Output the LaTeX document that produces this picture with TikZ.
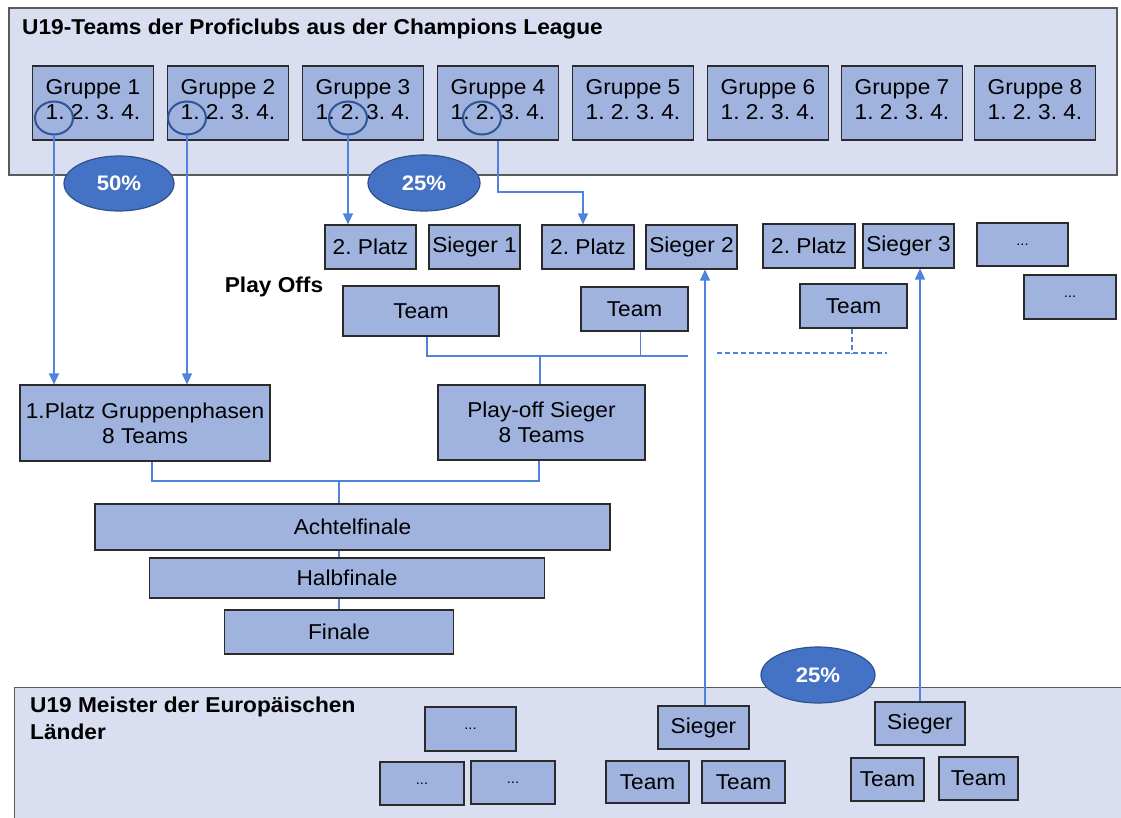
\documentclass[tikz,border=0pt]{standalone}
\usepackage{fontspec}
\setmainfont[FakeStretch=1.055]{Liberation Sans}
\usetikzlibrary{arrows.meta,shapes.geometric}

\definecolor{panelfill}{HTML}{D9DFF1}
\definecolor{panelline}{HTML}{5A5A5A}
\definecolor{boxfill}{HTML}{9FB3DE}
\definecolor{boxline}{HTML}{2B2B2B}
\definecolor{pctfill}{HTML}{4472C4}
\definecolor{pctline}{HTML}{2F528F}
\definecolor{ringcol}{HTML}{2F5597}
\definecolor{linkcol}{HTML}{5083DC}

\tikzset{
  panel/.style={draw=panelline, fill=panelfill, line width=1.2pt, inner sep=0pt},
  box/.style={draw=boxline, fill=boxfill, line width=1.1pt, inner sep=0pt,
    align=center, font=\fontsize{21.5}{25}\selectfont},
  dots/.style={box, font=\fontsize{14}{16}\selectfont},
  heading/.style={inner sep=0pt, align=left, font=\fontsize{21.5}{26.5}\selectfont\bfseries},
  pct/.style={ellipse, draw=pctline, fill=pctfill, line width=1.2pt, inner sep=0pt,
    text=white, font=\fontsize{21}{24}\selectfont\bfseries},
  ring/.style={ellipse, draw=ringcol, line width=2pt, inner sep=0pt,
    minimum width=38pt, minimum height=33pt},
  link/.style={draw=linkcol, line width=1.2pt},
  arrowlink/.style={link, -{Triangle[width=10pt,length=11pt]}},
  dashlink/.style={link, dash pattern=on 5pt off 3pt},
}

\begin{document}
\frenchspacing
\begin{tikzpicture}[x=1pt, y=-1pt]
\clip (0,0) rectangle (1121,818);
\fill[white] (0,0) rectangle (1121,818);

% ---- panels ----
\node[panel, minimum width=1108pt, minimum height=167pt] (top) at (563,91.5) {};
\node[heading, anchor=west] (toptitle) at (22,29) {U19-Teams der Proficlubs aus der Champions League};

\node[panel, minimum width=1120pt, minimum height=150pt, anchor=north west] (bottom) at (14,687) {};
\node[heading, anchor=north west] (bottomtitle) at (30,697) {U19 Meister der Europäischen\\Länder};

% ---- group stage ----
\foreach \i/\x in {1/93,2/228,3/363,4/498,5/633,6/768,7/902,8/1035}{
  \node[box, minimum width=121pt, minimum height=74pt] (g\i) at (\x,103) {Gruppe \i\\1. 2. 3. 4.\\[-17pt]};
}
\node[ring] (c1) at (54,118) {};
\node[ring] (c2) at (187,118) {};
\node[ring] (c3) at (348,118) {};
\node[ring] (c4) at (482,118) {};

% ---- play-off draw ----
\node[box, minimum width=91pt, minimum height=44pt] (p1) at (370.5,247) {2. Platz};
\node[box, minimum width=91pt, minimum height=44pt] (s1) at (474.5,247) {Sieger 1};
\node[box, minimum width=92pt, minimum height=44pt] (p2) at (588,247) {2. Platz};
\node[box, minimum width=91pt, minimum height=44pt] (s2) at (691.5,247) {Sieger 2};
\node[box, minimum width=92pt, minimum height=44pt] (p3) at (809,246) {2. Platz};
\node[box, minimum width=91pt, minimum height=44pt] (s3) at (908.5,246) {Sieger 3};
\node[dots, minimum width=91pt, minimum height=43pt] (d1) at (1022.5,244.5) {...};
\node[dots, minimum width=92pt, minimum height=44pt] (d2) at (1070,297) {...};

\node[heading] (playoffs) at (274,287) {Play Offs};
\node[box, minimum width=156pt, minimum height=50pt] (t1) at (421,311) {Team};
\node[box, minimum width=107pt, minimum height=44pt] (t2) at (634.5,309) {Team};
\node[box, minimum width=107pt, minimum height=44pt] (t3) at (853.5,306) {Team};

% ---- knockout stage ----
\node[box, minimum width=250pt, minimum height=76pt] (pl) at (145,423) {1.Platz Gruppenphasen\\8 Teams};
\node[box, minimum width=207pt, minimum height=75pt] (ps) at (541.5,422.5) {Play-off Sieger\\8 Teams};
\node[box, minimum width=515pt, minimum height=46pt] (ach) at (352.5,527) {Achtelfinale};
\node[box, minimum width=395pt, minimum height=40pt] (halb) at (347,578) {Halbfinale};
\node[box, minimum width=229pt, minimum height=44pt] (fin) at (339,632) {Finale};

% ---- national champions ----
\node[dots, minimum width=91pt, minimum height=44pt] (bd1) at (470.5,729) {...};
\node[dots, minimum width=84pt, minimum height=43pt] (bd2) at (422,783.5) {...};
\node[dots, minimum width=84pt, minimum height=43pt] (bd3) at (513,782.5) {...};
\node[box, minimum width=91pt, minimum height=43pt] (bs1) at (703.5,727.5) {Sieger};
\node[box, minimum width=83pt, minimum height=42pt] (bt1) at (647.5,782) {Team};
\node[box, minimum width=83pt, minimum height=42pt] (bt2) at (743.5,782) {Team};
\node[box, minimum width=90pt, minimum height=43pt] (bs2) at (920,723.5) {Sieger};
\node[box, minimum width=73pt, minimum height=43pt] (bt3) at (887.5,779.5) {Team};
\node[box, minimum width=79pt, minimum height=43pt] (bt4) at (978.5,778.5) {Team};

% ---- connectors ----
\draw[arrowlink] (c1.south) -- (c1.south |- pl.north);
\draw[arrowlink] (c2.south) -- (c2.south |- pl.north);
\draw[arrowlink] (c3.south) -- (c3.south |- p1.north);
\draw[arrowlink] (g4.south) |- (583,192) -- ([xshift=-5pt]p2.north);

\coordinate (tj) at (688,356);
\draw[link] ([xshift=6pt]t1.south) |- (tj);
\draw[link] ([xshift=6pt]t2.south) -- ([xshift=6pt]t2.south |- tj);
\draw[link] ([xshift=-1.5pt]ps.north) -- ([xshift=-1.5pt]ps.north |- tj);
\coordinate (dl) at (717,353);
\coordinate (dr) at (887,353);
\draw[dashlink] (dl) -- (dr);
\draw[dashlink] ([xshift=-1.5pt]t3.south) -- ([xshift=-1.5pt]t3.south |- dr);

\coordinate (kj) at (339,481);
\draw[link] ([xshift=7pt]pl.south) |- (kj) -| ([xshift=-2.5pt]ps.south);
\draw[link] (kj) -- (kj |- ach.north);
\draw[link] (ach.south -| kj) -- (halb.north -| kj);
\draw[link] (halb.south -| kj) -- (fin.north);

\draw[arrowlink] ([xshift=1.5pt]bs1.north) -- ([xshift=1.5pt]bs1.north |- s2.south);
\draw[arrowlink] (bs2.north) -- (bs2.north |- s3.south);

% ---- quota ellipses ----
\node[pct, minimum width=110pt, minimum height=55pt] (q50) at (119,183.5) {50\%};
\node[pct, minimum width=112pt, minimum height=56pt] (q25a) at (424,183) {25\%};
\node[pct, minimum width=114pt, minimum height=56pt] (q25b) at (818,675) {25\%};
\end{tikzpicture}
\end{document}
